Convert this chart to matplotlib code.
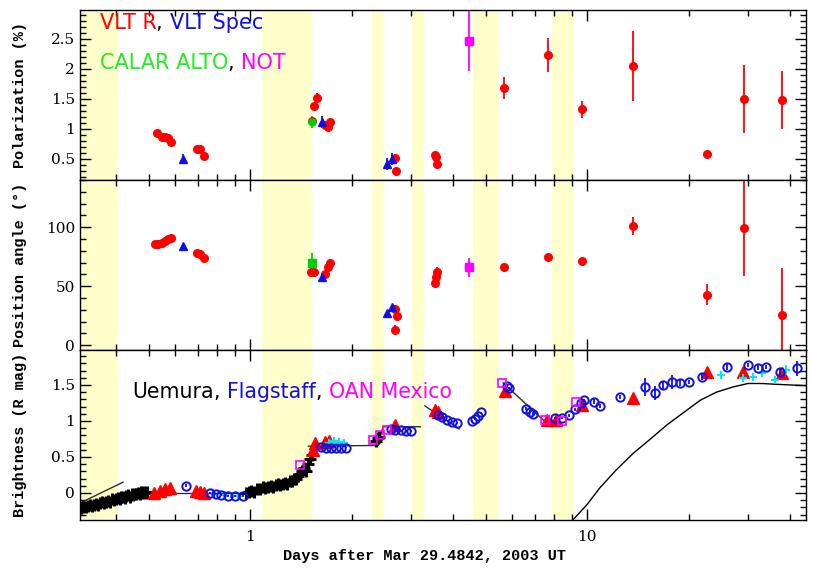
import numpy as np
import matplotlib.pyplot as plt
from matplotlib.ticker import MultipleLocator, FixedLocator, NullFormatter, FixedFormatter

plt.rcParams['font.family'] = ['DejaVu Serif']

# ---- shaded intervals (days) ----
bands = [(0.30, 0.406), (1.085, 1.527), (2.30, 2.497), (3.02, 3.28), (4.59, 5.49), (7.87, 9.14)]

# ---- polarization panel ----
vltr_t_pol = [0.530, 0.548, 0.560, 0.571, 0.583, 0.696, 0.710, 0.730, 1.53, 1.55, 1.58, 1.67, 1.70, 1.73,
              2.69, 2.71, 3.54, 3.56, 3.59, 5.67, 7.65, 9.66, 13.7, 22.7, 29.2, 37.8]
vltr_pol = [0.93, 0.87, 0.87, 0.85, 0.79, 0.67, 0.67, 0.55, 1.13, 1.38, 1.52, 1.07, 1.03, 1.12,
            0.52, 0.30, 0.57, 0.53, 0.42, 1.68, 2.23, 1.33, 2.05, 0.58, 1.50, 1.48]
vltr_pol_err = [0.05, 0.05, 0.05, 0.05, 0.05, 0.04, 0.04, 0.04, 0.06, 0.06, 0.07, 0.05, 0.05, 0.05,
                0.07, 0.05, 0.06, 0.06, 0.06, 0.18, 0.29, 0.14, 0.58, 0.07, 0.57, 0.48]
spec_t = [0.633, 1.64, 2.55, 2.64]
spec_pol = [0.50, 1.12, 0.42, 0.50]
spec_pol_err = [0.09, 0.10, 0.10, 0.10]
calar_t = [1.53]
calar_pol = [1.12]
calar_pol_err = [0.10]
not_t = [4.47]
not_pol = [2.47]
not_pol_err = [0.50]

# ---- position angle panel ----
vltr_t_pa = [0.523, 0.535, 0.548, 0.560, 0.571, 0.583, 0.696, 0.710, 0.730, 1.52, 1.55, 1.67, 1.70, 1.73,
             2.69, 2.72, 2.69, 3.54, 3.56, 3.59, 5.67, 7.65, 9.66, 13.7, 22.7, 29.2, 37.8]
vltr_pa = [86, 86, 87, 88, 90, 91, 78, 77, 74, 62, 62, 60, 66, 70,
           31, 24.6, 13, 53, 58, 62, 66, 74.6, 71, 101, 43, 99, 25.6]
vltr_pa_err = [1.5, 1.5, 1.5, 1.5, 1.5, 1.5, 1.5, 1.5, 1.5, 2, 2, 2, 2, 2,
               3, 3, 4, 3, 3, 4, 3, 3, 3, 8, 9, 40, 40]
spec_pa = [84, 57.6, 27, 32]
spec_pa_err = [1, 1, 1.5, 1.5]
calar_pa = [69.5]
calar_pa_err = [9]
not_pa = [66]
not_pa_err = [8]

# ---- brightness panel ----
uem_t = [0.315, 0.32, 0.325, 0.33, 0.335, 0.34, 0.345, 0.35, 0.355, 0.36, 0.365, 0.37, 0.375, 0.38,
         0.385, 0.39, 0.395, 0.40, 0.405, 0.41, 0.415, 0.42, 0.425, 0.43, 0.435, 0.44, 0.445, 0.45,
         0.455, 0.46, 0.465, 0.47, 0.475, 0.48, 0.485, 0.49, 0.495,
         0.97, 0.99, 1.01, 1.03, 1.05, 1.07, 1.09, 1.11, 1.13, 1.15, 1.17, 1.19, 1.21, 1.23, 1.25,
         1.27, 1.29, 1.31, 1.33, 1.35, 1.37, 1.39, 1.41, 1.43, 1.45, 1.47, 1.49, 1.51, 1.53,
         2.36, 2.39, 2.42]
uem_mag = [-0.21, -0.19, -0.20, -0.18, -0.17, -0.18, -0.16, -0.15, -0.16, -0.14, -0.13, -0.14, -0.12, -0.11,
           -0.12, -0.09, -0.10, -0.08, -0.07, -0.09, -0.06, -0.05, -0.07, -0.04, -0.03, -0.05, -0.02, -0.03,
           -0.01, -0.02, 0.00, -0.01, 0.01, 0.00, 0.02, 0.00, 0.01,
           0.00, 0.01, 0.03, 0.02, 0.05, 0.06, 0.08, 0.07, 0.09, 0.10, 0.09, 0.11, 0.12, 0.11, 0.13,
           0.14, 0.13, 0.16, 0.17, 0.19, 0.20, 0.24, 0.27, 0.30, 0.34, 0.30, 0.40, 0.47, 0.53,
           0.72, 0.76, 0.78]
vltr_t_mag = [0.52, 0.54, 0.56, 0.58, 0.69, 0.71, 0.73, 1.54, 1.56, 1.67, 1.71, 2.69, 3.54, 3.60,
              5.71, 7.6, 8.1, 9.66, 13.7, 22.7, 29.0, 37.8]
vltr_mag = [0.00, 0.03, 0.06, 0.07, 0.03, 0.02, 0.00, 0.60, 0.69, 0.71, 0.72, 0.94, 1.15, 1.13,
            1.41, 1.01, 1.01, 1.22, 1.32, 1.68, 1.68, 1.67]
flag_t = [0.646, 0.76, 0.79, 0.82, 0.86, 0.90, 0.95, 1.62, 1.68, 1.74, 1.80, 1.86, 1.92,
          2.62, 2.70, 2.80, 2.90, 3.00, 3.62, 3.72, 3.85, 3.98, 4.10, 4.55, 4.65, 4.75, 4.85,
          5.78, 5.88, 6.6, 6.75, 6.9, 8.05, 8.4, 8.85, 9.2, 9.6, 9.8, 10.5, 10.9,
          12.5, 14.8, 15.9, 16.8, 17.9, 18.9, 20.0, 21.9, 26.0, 30.0, 32.2, 34.0, 37.4, 42.0]
flag_mag = [0.10, 0.00, -0.01, -0.03, -0.04, -0.04, -0.04, 0.64, 0.63, 0.63, 0.62, 0.62, 0.63,
            0.89, 0.88, 0.87, 0.86, 0.86, 1.08, 1.05, 1.01, 0.99, 0.97, 1.00, 1.03, 1.07, 1.12,
            1.48, 1.46, 1.17, 1.13, 1.10, 1.04, 1.04, 1.08, 1.16, 1.25, 1.29, 1.27, 1.21,
            1.33, 1.47, 1.39, 1.50, 1.54, 1.53, 1.54, 1.61, 1.75, 1.78, 1.74, 1.75, 1.68, 1.73]
flag_err = [0.02, 0.01, 0.01, 0.01, 0.01, 0.01, 0.01, 0.01, 0.01, 0.01, 0.01, 0.01, 0.01,
            0.01, 0.01, 0.01, 0.01, 0.01, 0.01, 0.01, 0.01, 0.01, 0.01, 0.01, 0.01, 0.01, 0.01,
            0.01, 0.01, 0.02, 0.02, 0.02, 0.01, 0.01, 0.02, 0.02, 0.02, 0.02, 0.03, 0.03,
            0.03, 0.12, 0.10, 0.06, 0.10, 0.05, 0.03, 0.04, 0.04, 0.03, 0.03, 0.03, 0.04, 0.10]
cyan_t = [0.78, 0.84, 0.92, 1.72, 1.78, 1.84, 1.90, 25.0, 29.0, 31.0, 33.0, 36.0, 39.0]
cyan_mag = [-0.01, -0.03, -0.04, 0.70, 0.72, 0.71, 0.70, 1.64, 1.60, 1.61, 1.67, 1.57, 1.71]
cyan_err = [0.02, 0.02, 0.02, 0.03, 0.03, 0.03, 0.03, 0.04, 0.04, 0.05, 0.06, 0.06, 0.07]
oan_t = [1.41, 2.32, 2.43, 2.55, 5.60, 7.50, 8.40, 9.30]
oan_mag = [0.39, 0.74, 0.80, 0.88, 1.53, 1.01, 1.00, 1.26]

# straight-line fits drawn over the light curve
fit_segments = [([0.313, 0.42], [-0.14, 0.15]),
                ([0.50, 0.97], [0.00, 0.00]),
                ([1.49, 2.40, 2.48, 3.20], [0.65, 0.66, 0.92, 0.92]),
                ([3.30, 4.17], [1.21, 0.89]),
                ([5.63, 7.50], [1.53, 0.99])]
model_t = [9.07, 10.0, 10.9, 12.2, 13.7, 15.5, 17.3, 19.5, 21.7, 24.2, 27.0, 30.0, 33.0, 36.0, 40.0, 44.6]
model_mag = [-0.375, -0.16, 0.07, 0.32, 0.55, 0.76, 0.95, 1.13, 1.29, 1.40, 1.47, 1.52, 1.52, 1.51, 1.50, 1.49]

RED, BLUE, GREEN, MAG, CYAN = '#ff0000', '#1010e0', '#00d000', '#ff00ff', '#00e8f0'
label_font = 'Liberation Mono'
note_font = 'DejaVu Sans'

fig = plt.figure(figsize=(8.13, 5.68), dpi=100)
left, width, h = 80 / 813, 726 / 813, 170 / 568
bottoms = [1 - 180 / 568, 1 - 350 / 568, 1 - 520 / 568]
axes = [fig.add_axes([left, b, width, h]) for b in bottoms]
ax1, ax2, ax3 = axes

for ax in axes:
    ax.set_xscale('log')
    ax.set_xlim(0.313, 44.6)
    for a, b in bands:
        ax.axvspan(a, b, color='#ffffcc', lw=0, zorder=0)
    ax.xaxis.set_major_locator(FixedLocator([1, 10]))
    ax.xaxis.set_minor_locator(FixedLocator([0.4, 0.5, 0.6, 0.7, 0.8, 0.9, 2, 3, 4, 5, 6, 7, 8, 9, 20, 30, 40]))
    ax.xaxis.set_minor_formatter(NullFormatter())
    ax.tick_params(which='both', direction='in', top=True, right=True, width=1)
    ax.tick_params(which='major', length=8, labelsize=11)
    ax.tick_params(which='minor', length=4.5)
    for sp in ax.spines.values():
        sp.set_linewidth(1)

ax1.set_ylim(0.15, 2.98)
ax1.yaxis.set_major_locator(FixedLocator([0.5, 1, 1.5, 2, 2.5]))
ax1.yaxis.set_major_formatter(FixedFormatter(['0.5', '1', '1.5', '2', '2.5']))
ax1.yaxis.set_minor_locator(MultipleLocator(0.1))

ax2.set_ylim(-4, 140)
ax2.yaxis.set_major_locator(FixedLocator([0, 50, 100]))
ax2.yaxis.set_major_formatter(FixedFormatter(['0', '50', '100']))
ax2.yaxis.set_minor_locator(MultipleLocator(10))

ax3.set_ylim(-0.375, 1.985)
ax3.yaxis.set_major_locator(FixedLocator([0, 0.5, 1, 1.5]))
ax3.yaxis.set_major_formatter(FixedFormatter(['0', '0.5', '1', '1.5']))
ax3.yaxis.set_minor_locator(MultipleLocator(0.1))

for ax in (ax1, ax2):
    ax.set_xticklabels([])
ax3.set_xticklabels(['1', '10'])
ax3.tick_params(axis='x', pad=7)

eb = dict(ls='none', elinewidth=1.3, capsize=0)
# polarization
ax1.errorbar(vltr_t_pol, vltr_pol, yerr=vltr_pol_err, fmt='o', color=RED, ms=5.5, **eb)
ax1.errorbar(spec_t, spec_pol, yerr=spec_pol_err, fmt='^', color=BLUE, ms=5.5, **eb)
ax1.errorbar(calar_t, calar_pol, yerr=calar_pol_err, fmt='o', color=GREEN, ms=5, **eb)
ax1.errorbar(not_t, not_pol, yerr=not_pol_err, fmt='s', color=MAG, ms=5.5, **eb)
# position angle
ax2.errorbar(vltr_t_pa, vltr_pa, yerr=vltr_pa_err, fmt='o', color=RED, ms=5.5, **eb)
ax2.errorbar(spec_t, spec_pa, yerr=spec_pa_err, fmt='^', color=BLUE, ms=6, **eb)
ax2.errorbar(calar_t, calar_pa, yerr=calar_pa_err, fmt='s', color=GREEN, ms=6, **eb)
ax2.errorbar(not_t, not_pa, yerr=not_pa_err, fmt='s', color=MAG, ms=6, **eb)
# brightness
for xs, ys in fit_segments:
    ax3.plot(xs, ys, color='#303030', lw=1.0, zorder=2)
ax3.plot(model_t, model_mag, color='black', lw=1.0, zorder=2)
ax3.errorbar(uem_t, uem_mag, yerr=0.03, fmt='+', color='black', ms=8, mew=2.2, ls='none', elinewidth=1.2, zorder=3)
ax3.plot(vltr_t_mag, vltr_mag, '^', color=RED, ms=9, ls='none', zorder=4)
ax3.errorbar(flag_t, flag_mag, yerr=flag_err, fmt='o', color=BLUE, mfc='none', mec=BLUE, ms=6, mew=1.4,
             ls='none', elinewidth=1.3, zorder=5)
ax3.errorbar(cyan_t, cyan_mag, yerr=cyan_err, fmt='+', color=CYAN, ms=6, mew=1.5, ls='none', elinewidth=1.3, zorder=4)
ax3.plot(oan_t, oan_mag, 's', color=MAG, mfc='none', ms=5.5, mew=1.2, ls='none', zorder=6)


def coloured_text(ax, x, y, parts, size):
    t = ax.text(x, y, parts[0][0], color=parts[0][1], transform=ax.transAxes, fontsize=size, va='center',
                fontfamily=note_font)
    for s, c in parts[1:]:
        t = ax.annotate(s, xy=(1, 0), xycoords=t, color=c, fontsize=size, va='bottom', fontfamily=note_font)


coloured_text(ax1, 0.027, 0.925, [('VLT R', RED), (', ', 'black'), ('VLT Spec', BLUE)], 15)
coloured_text(ax1, 0.027, 0.69, [('CALAR ALTO', '#20ee20'), (', ', 'black'), ('NOT', MAG)], 15)
coloured_text(ax3, 0.072, 0.75, [('Uemura', 'black'), (', ', 'black'), ('Flagstaff', BLUE), (', ', 'black'),
                                 ('OAN Mexico', MAG)], 14.8)

ylabels = ['Polarization (%)', 'Position angle (°)', 'Brightness (R mag)']
for ax, b, lab in zip(axes, bottoms, ylabels):
    fig.text(0.024, b + h / 2, lab, rotation=90, ha='center', va='center', fontsize=11,
             fontfamily=label_font, fontweight='bold')
fig.text(left + width * 0.475, 1 - 556 / 568, 'Days after Mar 29.4842, 2003 UT', ha='center', va='center',
         fontsize=11, fontfamily=label_font, fontweight='bold')

fig.savefig('out.png', dpi=100)
